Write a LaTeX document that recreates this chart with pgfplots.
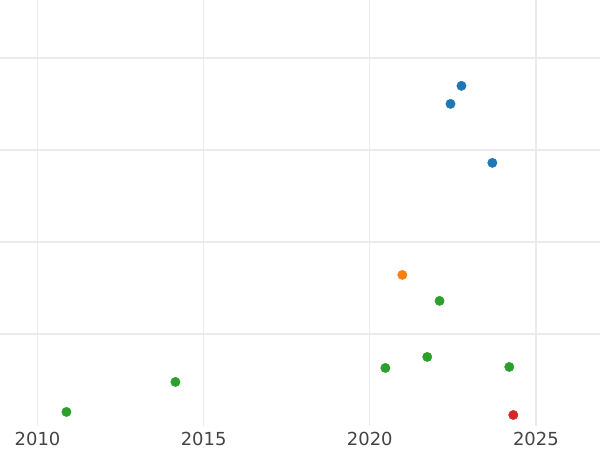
\documentclass[border=0pt]{standalone}
\usepackage{fontspec}
\setmainfont{DejaVu Sans}
\usepackage{pgfplots}
\pgfplotsset{compat=1.18}
\usetikzlibrary{calc}
\definecolor{TabBlue}{HTML}{1F77B4}
\definecolor{TabOrange}{HTML}{FF7F0E}
\definecolor{TabGreen}{HTML}{2CA02C}
\definecolor{TabRed}{HTML}{D62728}
\definecolor{Grid}{HTML}{EBEBEB}
\definecolor{Label}{HTML}{444444}
\begin{document}
\begin{tikzpicture}
  \begin{axis}[
    scale only axis,
    width=600bp,height=426bp,
    xmin=2008.87,xmax=2026.93,ymin=0,ymax=4.63,
    xtick={2010,2015,2020,2025},
    ytick={1,2,3,4},
    yticklabels={},
    /pgf/number format/assume math mode=true,
    /pgf/number format/1000 sep={},
    xticklabel style={font=\fontsize{18}{20}\selectfont,color=Label,anchor=north,inner sep=0pt,yshift=-6bp},
    major tick length=0pt,
    axis line style={draw=none},
    grid=major,grid style={Grid,line width=1.3bp},
    mark size=4.7bp,
    clip=false
  ]
    \addplot[only marks,mark=*,TabBlue,mark options={draw=TabBlue,fill=TabBlue}] coordinates {
      (2022.76,3.697) (2022.43,3.501) (2023.69,2.860)};
    \addplot[only marks,mark=*,TabOrange,mark options={draw=TabOrange,fill=TabOrange}] coordinates {
      (2020.98,1.642)};
    \addplot[only marks,mark=*,TabGreen,mark options={draw=TabGreen,fill=TabGreen}] coordinates {
      (2022.10,1.360) (2021.73,0.751) (2020.47,0.631) (2024.20,0.642) (2014.15,0.479) (2010.87,0.153)};
    \addplot[only marks,mark=*,TabRed,mark options={draw=TabRed,fill=TabRed}] coordinates {
      (2024.32,0.120)};
  \end{axis}
  \pgfresetboundingbox
  \path[use as bounding box] ($(current axis.south west)+(0,-24bp)$) rectangle (current axis.north east);
\end{tikzpicture}
\end{document}
